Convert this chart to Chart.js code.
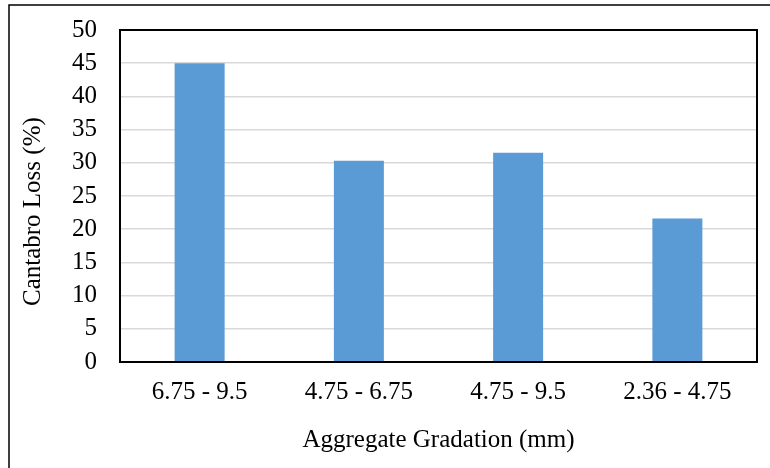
<!DOCTYPE html>
<html>
<head>
<meta charset="utf-8">
<script src="https://cdn.jsdelivr.net/npm/chart.js@4"></script>
<style>
  html, body { margin: 0; padding: 0; background: #fff; }
  #wrap { width: 770px; height: 468px; }
</style>
</head>
<body>
<div id="wrap"><canvas id="barChart" width="770" height="468"></canvas></div>
<script>
const categories = ['6.75 - 9.5', '4.75 - 6.75', '4.75 - 9.5', '2.36 - 4.75'];
const cantabroLoss = [45, 30.3, 31.5, 21.6];
const yTicks = [0, 5, 10, 15, 20, 25, 30, 35, 40, 45, 50];

const FONT = 'Liberation Serif, "Times New Roman", serif';

// outer frame (top + left only, the rest is cut off) and plot border
const frames = {
  id: 'frames',
  afterDraw(chart) {
    const c = chart.ctx;
    const a = chart.chartArea;
    c.save();
    c.strokeStyle = '#000';
    c.lineWidth = 2;
    c.strokeRect(a.left, a.top, a.right - a.left, a.bottom - a.top);
    c.lineWidth = 1.5;
    c.beginPath();
    c.moveTo(9, 468);
    c.lineTo(9, 5);
    c.lineTo(770, 5);
    c.stroke();
    c.restore();
  }
};

const CHART = document.getElementById('barChart').getContext('2d');

let myBarChart = new Chart(CHART, {
  type: 'bar',
  data: {
    labels: categories,
    datasets: [{
      label: 'Cantabro Loss',
      data: cantabroLoss,
      backgroundColor: '#5B9BD5',
      borderWidth: 0,
      categoryPercentage: 1,
      barPercentage: 0.314
    }]
  },
  options: {
    responsive: false,
    animation: false,
    layout: { padding: { top: 30, right: 13, left: 0, bottom: 0 } },
    plugins: {
      legend: { display: false },
      tooltip: { enabled: false }
    },
    scales: {
      x: {
        grid: { display: false, drawTicks: false },
        border: { display: false },
        ticks: { color: '#000', font: { family: FONT, size: 25 }, padding: 15, maxRotation: 0 },
        title: {
          display: true,
          text: 'Aggregate Gradation (mm)',
          color: '#000',
          font: { family: FONT, size: 25 },
          padding: { top: 0, bottom: 13 }
        },
        afterFit(scale) {
          scale.height = 106;
          scale.paddingLeft = 0;
          scale.paddingRight = 0;
        }
      },
      y: {
        min: 0,
        max: 50,
        afterBuildTicks(scale) { scale.ticks = yTicks.map(v => ({ value: v })); },
        grid: { color: '#d9d9d9', lineWidth: 1.5, drawTicks: false },
        border: { display: false },
        ticks: { color: '#000', font: { family: FONT, size: 25 }, padding: 23, autoSkip: false },
        title: {
          display: true,
          // trailing spaces nudge the rotated title down like the original
          text: 'Cantabro Loss (%)\u00a0\u00a0\u00a0\u00a0\u00a0',
          color: '#000',
          font: { family: FONT, size: 25 },
          padding: { top: 18, bottom: 0 }
        },
        afterFit(scale) {
          scale.width = 120;
          scale.paddingTop = 0;
          scale.paddingBottom = 0;
        }
      }
    }
  },
  plugins: [frames]
});
</script>
</body>
</html>
